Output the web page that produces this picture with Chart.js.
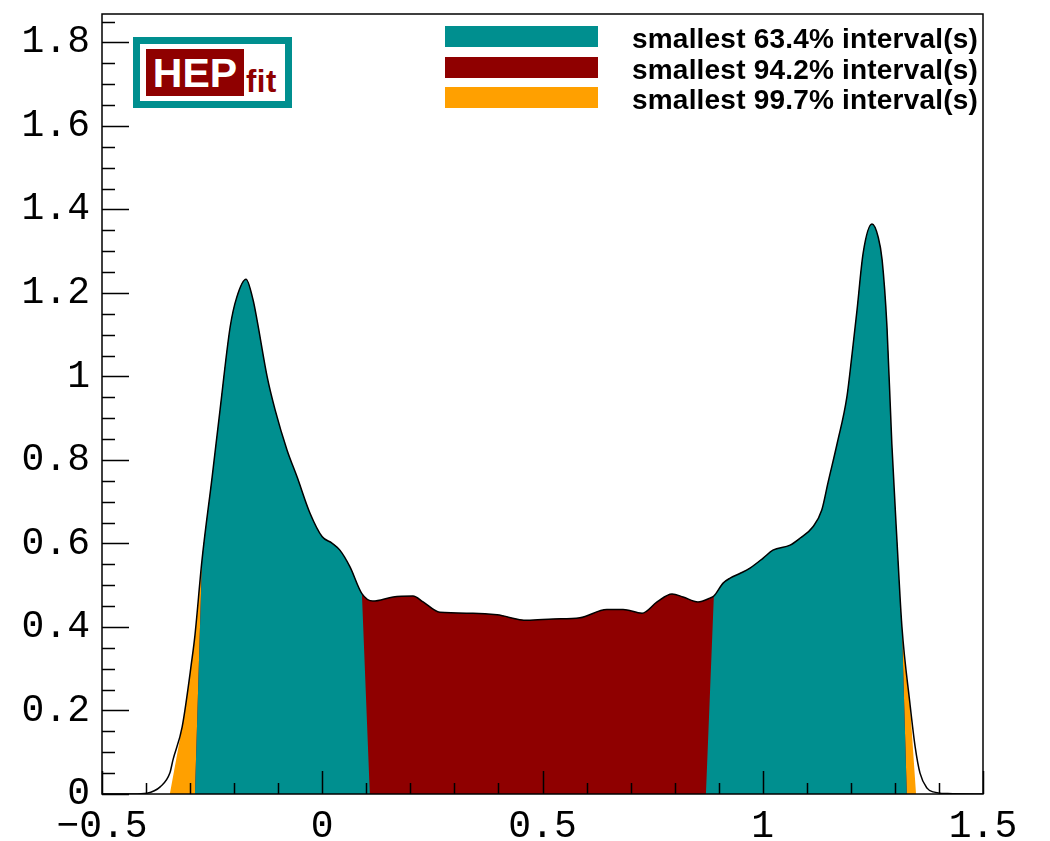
<!DOCTYPE html>
<html>
<head>
<meta charset="utf-8">
<title>HEPfit posterior</title>
<script src="https://cdn.jsdelivr.net/npm/chart.js@4.4.1/dist/chart.umd.min.js"></script>
<style>
  html, body { margin: 0; padding: 0; background: #fff; }
  #wrap { position: relative; width: 1050px; height: 841px; overflow: hidden; }
  #legend { position: absolute; left: 445px; top: 26px; }
  .row { position: absolute; left: 0; height: 21px; }
  .swatch { position: absolute; left: 0; top: 0; width: 153px; height: 21px; }
  .label { position: absolute; left: 187px; top: -3px; line-height: 21px; white-space: nowrap;
           font: bold 28px "Liberation Sans", Arial, sans-serif; letter-spacing: 0.2px; color: #000; }
  #logo { position: absolute; left: 133px; top: 37px; width: 159px; height: 71px;
          box-sizing: border-box; border: 7px solid #008f8f; background: #fff; }
  #logo .hep { position: absolute; left: 6px; top: 5px; width: 98px; height: 47px; background: #8f0000;
               color: #fff; font: bold 41px "Liberation Sans", Arial, sans-serif; line-height: 48px; text-align: center; }
  #logo .fit { position: absolute; left: 106px; top: 21px; color: #8f0000;
               font: bold 31px "Liberation Sans", Arial, sans-serif; line-height: 34px; letter-spacing: 0.5px; }
</style>
</head>
<body>
<div id="wrap">
  <canvas id="pdf" width="1050" height="841"></canvas>
  <div id="logo"><div class="hep">HEP</div><div class="fit">fit</div></div>
  <div id="legend"></div>
</div>
<script>
// posterior curve
const curveX = [-0.50, -0.43, -0.398, -0.368, -0.346, -0.339, -0.318, -0.296, -0.289, -0.273,
  -0.250, -0.232, -0.209, -0.194, -0.173, -0.157, -0.148, -0.125, -0.107, -0.080,
  -0.057, -0.028, 0.000, 0.022, 0.040, 0.063, 0.090, 0.115, 0.161, 0.206,
  0.229, 0.267, 0.342, 0.397, 0.465, 0.524, 0.585, 0.646, 0.683, 0.726,
  0.760, 0.794, 0.819, 0.853, 0.880, 0.889, 0.910, 0.926, 0.948, 0.971,
  1.001, 1.023, 1.062, 1.085, 1.114, 1.134, 1.148, 1.169, 1.191, 1.203,
  1.214, 1.228, 1.248, 1.262, 1.271, 1.282, 1.293, 1.305, 1.316, 1.334,
  1.346, 1.357, 1.373, 1.387, 1.42, 1.50];
const curveY = [0, 0, 0.002, 0.017, 0.050, 0.081, 0.161, 0.321, 0.380, 0.560,
  0.759, 0.920, 1.119, 1.190, 1.233, 1.183, 1.135, 0.999, 0.920, 0.824,
  0.759, 0.673, 0.616, 0.601, 0.584, 0.544, 0.480, 0.462, 0.472, 0.474,
  0.460, 0.435, 0.433, 0.429, 0.416, 0.419, 0.422, 0.442, 0.442, 0.433,
  0.460, 0.479, 0.472, 0.460, 0.469, 0.474, 0.505, 0.517, 0.528, 0.541,
  0.565, 0.584, 0.596, 0.613, 0.640, 0.680, 0.745, 0.840, 0.951, 1.056,
  1.159, 1.296, 1.365, 1.334, 1.279, 1.119, 0.840, 0.601, 0.400, 0.218,
  0.113, 0.050, 0.014, 0.005, 0.001, 0];

// intervals: [x at bottom left, x where edge meets curve, x where edge leaves curve, x at bottom right]
const band63 = [[-0.289, -0.273, 0.090, 0.108], [0.871, 0.889, 1.316, 1.327]];
const band94 = [[-0.289, -0.273, 1.316, 1.327]];
const band99 = [[-0.346, -0.318, 1.334, 1.348]];

const legendLabels = ['smallest 63.4% interval(s)', 'smallest 94.2% interval(s)', 'smallest 99.7% interval(s)'];
const bandColors = ['#008f8f', '#8f0000', '#ffa000'];

const xTickValues = [-0.5, 0, 0.5, 1, 1.5];
const yTickValues = [0, 0.2, 0.4, 0.6, 0.8, 1, 1.2, 1.4, 1.6, 1.8];
const xRange = [-0.5, 1.5];
const yRange = [0, 1.868];

const curve = curveX.map((x, i) => ({ x: x, y: curveY[i] }));

function bandSets(bands, color, order) {
    return bands.map(b => ({
        data: curve.map(p => ({ x: p.x, y: p.y })),
        band: b,
        backgroundColor: color,
        borderColor: 'rgba(0,0,0,0)',
        borderWidth: 0,
        fill: 'origin',
        order: order
    }));
}

// each band is the same curve filled to 0, clipped to its interval
const bandClip = {
    id: 'bandClip',
    beforeDatasetDraw(chart, args) {
        const b = chart.data.datasets[args.index].band;
        if (!b) return;
        const { ctx, chartArea: a, scales: { x, y } } = chart;
        const yLo = curveY[curveX.indexOf(b[1])];
        const yHi = curveY[curveX.indexOf(b[2])];
        ctx.save();
        ctx.beginPath();
        ctx.moveTo(x.getPixelForValue(b[0]), a.bottom);
        ctx.lineTo(x.getPixelForValue(b[1]), y.getPixelForValue(yLo));
        ctx.lineTo(x.getPixelForValue(b[1]), a.top);
        ctx.lineTo(x.getPixelForValue(b[2]), a.top);
        ctx.lineTo(x.getPixelForValue(b[2]), y.getPixelForValue(yHi));
        ctx.lineTo(x.getPixelForValue(b[3]), a.bottom);
        ctx.closePath();
        ctx.clip();
    },
    afterDatasetDraw(chart, args) {
        if (chart.data.datasets[args.index].band) chart.ctx.restore();
    }
};

// the clip has to be in place before the filler paints
const filler = Chart.registry.getPlugin('filler');
Chart.unregister(filler);
Chart.register(bandClip, filler);

const fmt = v => String(Math.round(v * 10) / 10).replace('-', '\u2212');
const tickFont = { family: '"Liberation Mono", "DejaVu Sans Mono", monospace', size: 38 };

// ROOT style: ticks pointing into the frame, minor ticks too
const frameTicks = {
    id: 'frameTicks',
    afterDatasetsDraw(chart) {
        const { ctx, chartArea: a, scales: { x, y } } = chart;
        ctx.save();
        ctx.strokeStyle = '#000';
        ctx.lineWidth = 1.5;
        ctx.beginPath();
        for (let i = 0; i <= 37; i++) {
            const py = Math.round(y.getPixelForValue(i * 0.05)) + 0.5;
            const len = i % 4 === 0 ? 27 : 13;
            ctx.moveTo(a.left, py);
            ctx.lineTo(a.left + len, py);
        }
        for (let i = 0; i <= 20; i++) {
            const px = Math.round(x.getPixelForValue(xRange[0] + i * 0.1)) + 0.5;
            const len = i % 5 === 0 ? 23 : 11;
            ctx.moveTo(px, a.bottom);
            ctx.lineTo(px, a.bottom - len);
        }
        ctx.stroke();
        ctx.strokeRect(a.left, a.top, a.right - a.left, a.bottom - a.top);
        ctx.restore();
    }
};

new Chart(document.getElementById('pdf'), {
    type: 'line',
    data: {
        datasets: [
            { data: curve, borderColor: '#000', borderWidth: 1.5, fill: false, order: 0 },
            ...bandSets(band63, bandColors[0], 1),
            ...bandSets(band94, bandColors[1], 2),
            ...bandSets(band99, bandColors[2], 3)
        ]
    },
    options: {
        responsive: false,
        animation: false,
        devicePixelRatio: 1,
        layout: { padding: { top: 14, right: 67, left: 0, bottom: 0 } },
        elements: {
            point: { radius: 0 },
            line: { cubicInterpolationMode: 'monotone' }
        },
        plugins: { legend: { display: false }, tooltip: { enabled: false } },
        scales: {
            x: {
                type: 'linear',
                min: xRange[0],
                max: xRange[1],
                grid: { display: false },
                border: { display: false },
                ticks: { font: tickFont, color: '#000', padding: 2, maxRotation: 0, autoSkip: false, callback: fmt },
                afterBuildTicks: s => { s.ticks = xTickValues.map(v => ({ value: v })); },
                afterFit: s => { s.height = 47; s.paddingLeft = 0; s.paddingRight = 0; }
            },
            y: {
                min: yRange[0],
                max: yRange[1],
                grid: { display: false },
                border: { display: false },
                ticks: { font: tickFont, color: '#000', padding: 4, autoSkip: false, callback: fmt },
                afterBuildTicks: s => { s.ticks = yTickValues.map(v => ({ value: v })); },
                afterFit: s => { s.width = 102; s.paddingTop = 0; s.paddingBottom = 0; }
            }
        }
    },
    plugins: [frameTicks]
});

// legend
const legend = document.getElementById('legend');
legendLabels.forEach((txt, i) => {
    const row = document.createElement('div');
    row.className = 'row';
    row.style.top = (i * 30.5) + 'px';
    row.innerHTML = '<div class="swatch" style="background:' + bandColors[i] + '"></div><div class="label"></div>';
    row.querySelector('.label').textContent = txt;
    legend.appendChild(row);
});
</script>
</body>
</html>
